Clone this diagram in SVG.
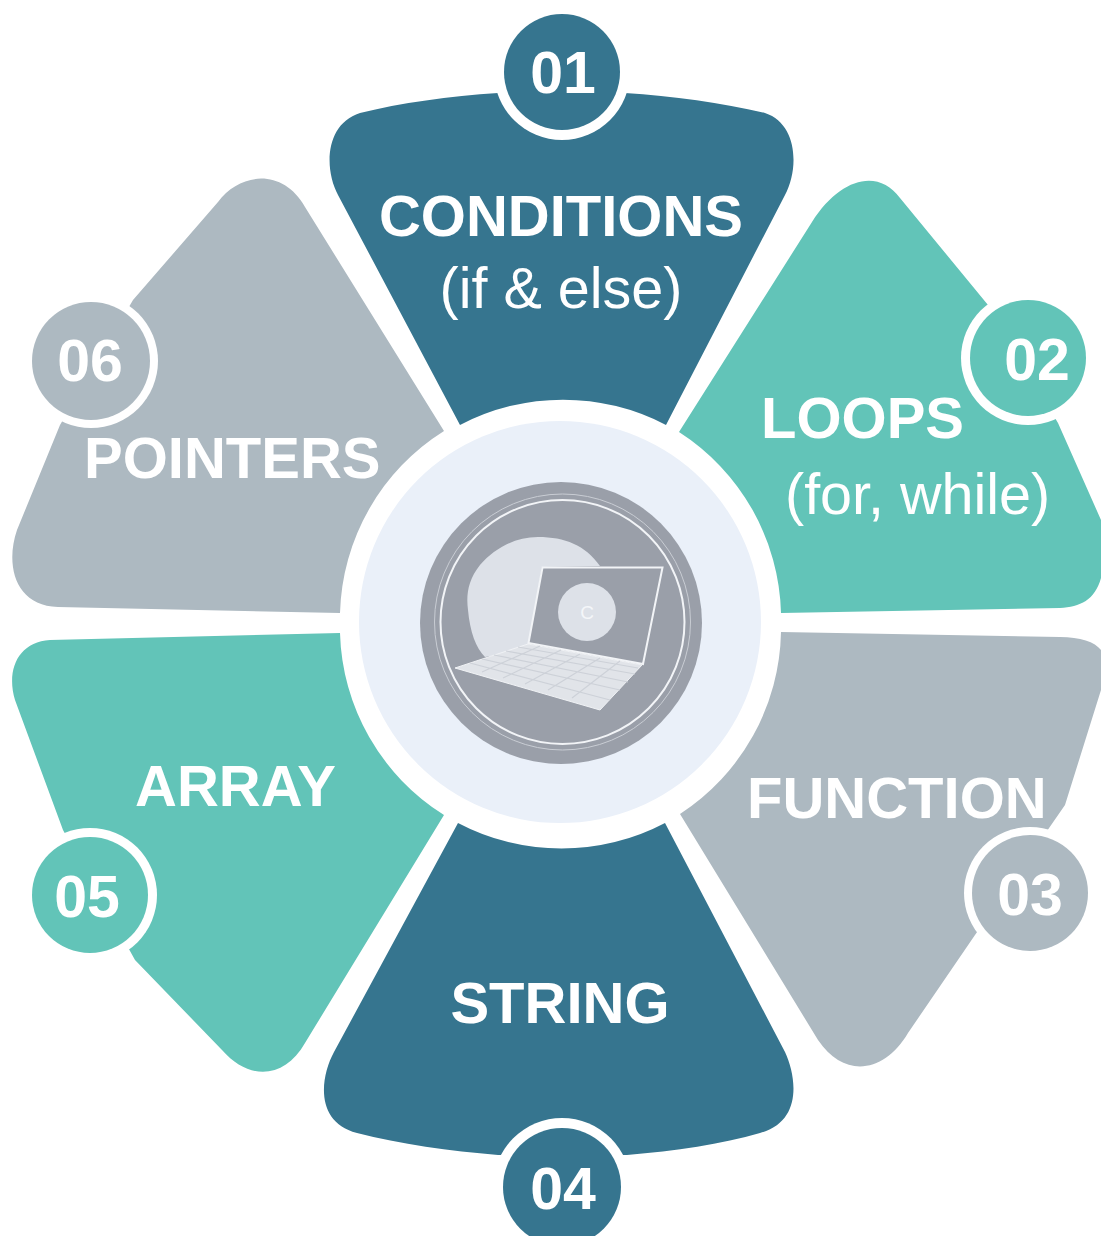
<svg xmlns="http://www.w3.org/2000/svg" width="1101" height="1236" viewBox="0 0 1101 1236">
<style>
.dark{fill:#36758F}.teal{fill:#62C4B8}.gray{fill:#ADB9C1}
.ring{fill:#fff}
text{font-family:"Liberation Sans",Arial,sans-serif;fill:#fff}
.b{font-weight:700;font-size:58px}
.r{font-size:57.5px}
.n{font-weight:700;font-size:59px;text-anchor:middle}
.m{text-anchor:middle}
.key{stroke:#CDD1D8;stroke-width:1.2;fill:none}
</style>
<rect width="1101" height="1236" fill="#fff"/>
<g id="connectors"/>
<g id="node-01">
<path class="dark" d="M460 425L338 195C324 169 325 124 360 113C400 103 450 96 498 93L625 93C673 96 723 103 765 113C798 124 799 169 785 195L666 425A222 222 0 0 0 460 425Z"/>
<circle class="ring" cx="562" cy="72" r="68"/><circle class="dark" cx="562" cy="72" r="58"/>
<text class="b m" x="561" y="236">CONDITIONS</text>
<text class="r m" x="561" y="308">(if &amp; else)</text>
<text class="n" x="563" y="93">01</text>
</g>
<g id="node-02">
<path class="teal" d="M679 432L812 222C840 178 878 168 900 198L988 305L1058 423L1101 520L1101 578C1095 600 1080 607 1060 608L781 613A222 222 0 0 0 679 432Z"/>
<circle class="ring" cx="1028" cy="358" r="67"/><circle class="teal" cx="1028" cy="358" r="58"/>
<text class="b" x="761" y="438" font-size="57">LOOPS</text>
<text class="r" x="785" y="514">(for, while)</text>
<text class="n" x="1037" y="380">02</text>
</g>
<g id="node-03">
<path class="gray" d="M781 632L1060 637C1080 637 1095 642 1101 650L1101 690L1065 805L975 935L908 1033C885 1072 845 1080 818 1040L680 814A222 222 0 0 0 781 632Z"/>
<circle class="ring" cx="1030" cy="893" r="66"/><circle class="gray" cx="1030" cy="893" r="58"/>
<text class="b" x="747" y="818">FUNCTION</text>
<text class="n" x="1030" y="915">03</text>
</g>
<g id="node-04">
<path class="dark" d="M458 823L334 1052C320 1078 315 1122 357 1133C400 1144 450 1151 498 1155L627 1155C675 1151 722 1144 760 1133C802 1122 797 1078 785 1052L665 823A222 222 0 0 1 458 823Z"/>
<circle class="ring" cx="562" cy="1187" r="69"/><circle class="dark" cx="562" cy="1187" r="59"/>
<text class="b m" x="560" y="1023">STRING</text>
<text class="n" x="563" y="1209">04</text>
</g>
<g id="node-05">
<path class="teal" d="M340 633L50 640C18 642 6 670 15 700L63 830L135 960L222 1050C250 1082 285 1078 305 1043L444 815A222 222 0 0 1 340 633Z"/>
<circle class="ring" cx="90" cy="895" r="67"/><circle class="teal" cx="90" cy="895" r="58"/>
<text class="b" x="135" y="806">ARRAY</text>
<text class="n" x="87" y="917">05</text>
</g>
<g id="node-06">
<path class="gray" d="M444 431L305 207C283 168 240 172 218 202L133 300L60 425L17 530C5 565 15 606 58 607L340 613A222 222 0 0 1 444 431Z"/>
<circle class="ring" cx="91" cy="361" r="67"/><circle class="gray" cx="91" cy="361" r="59"/>
<text class="b" x="84" y="478">POINTERS</text>
<text class="n" x="90" y="381">06</text>
</g>
<g id="center">
<circle cx="560" cy="622" r="201" fill="#EAF0F9"/>
<circle cx="561" cy="623" r="141" fill="#9A9FA9"/>
<circle cx="562.5" cy="622" r="128" fill="none" stroke="#C9CDD4" stroke-width="1"/>
<circle cx="562.5" cy="622" r="122" fill="none" stroke="#F2F4F7" stroke-width="2"/>
<path d="M600 566C585 545 565 537 538 537C515 537 495 548 480 565C468 580 466 595 468 610C470 632 476 648 485 657L528 650L542 567Z" fill="#DDE1E8"/>
<polygon points="542.5,567.5 662.5,567.5 643,664 528.5,643" fill="#9A9FA9" stroke="#F2F4F7" stroke-width="2"/>
<circle cx="587" cy="612" r="29" fill="#DDE1E8"/>
<text x="587" y="619" font-size="19" text-anchor="middle" style="fill:#F4F6F9">C</text>
<polygon points="455,668 528,644 642,665 600,710" fill="#E1E4E9" stroke="#F0F2F5" stroke-width="1"/>
<path class="key" d="M470 663L610 700M482 659L620 690M494 655L628 682M506 651L635 674M518 647L638 668M482 672L540 646M503 678L561 650M525 684L580 654M548 690L600 658M572 698L620 661"/>
</g>
</svg>
